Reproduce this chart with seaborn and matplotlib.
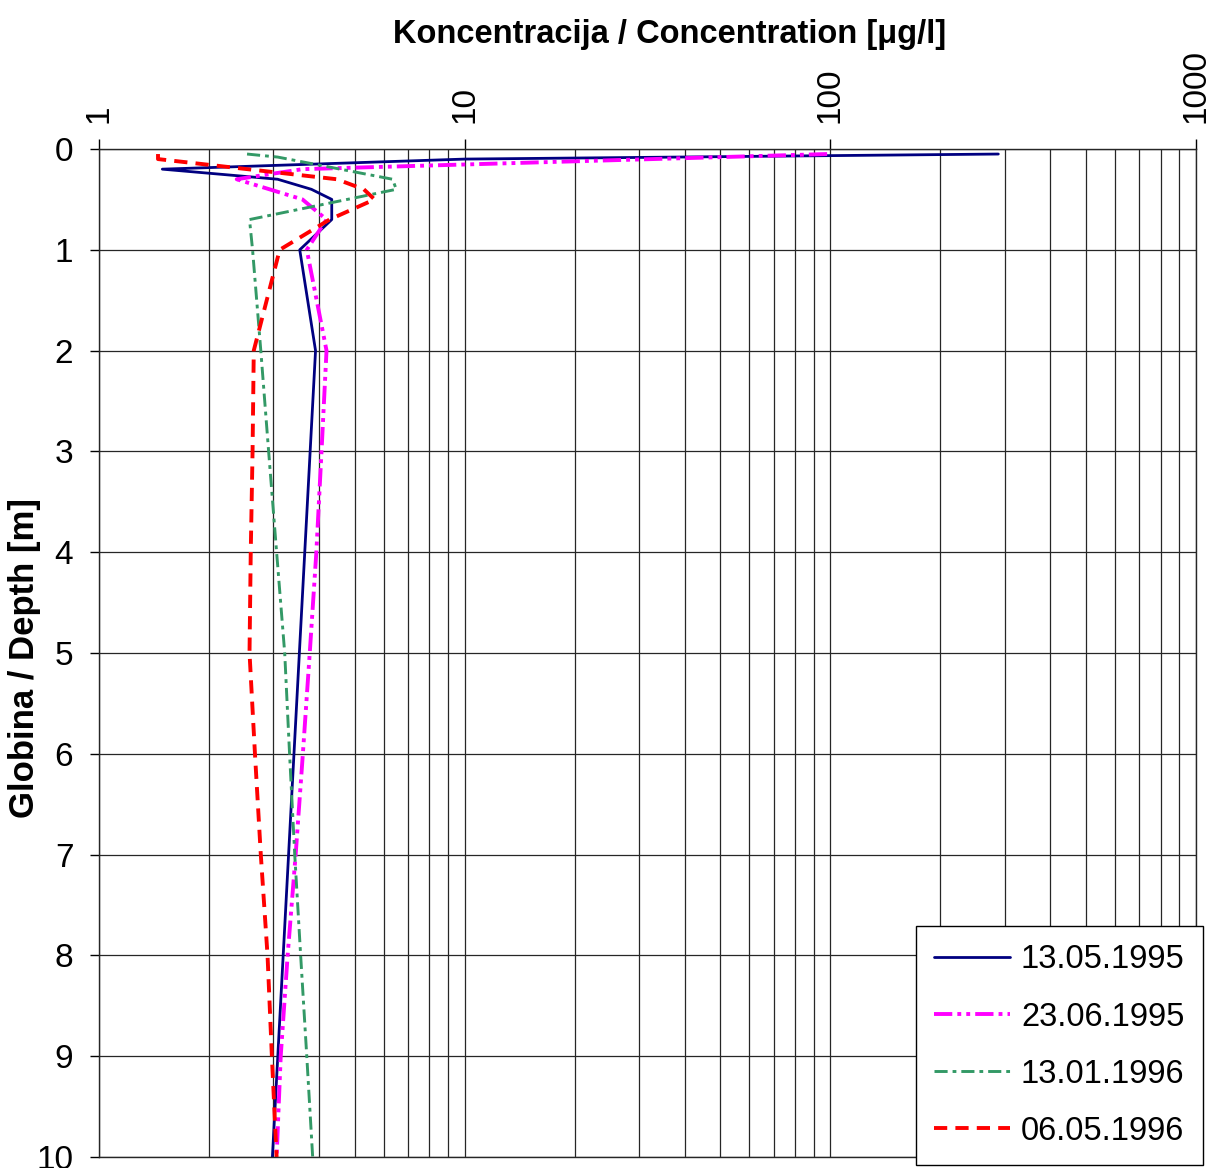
import numpy as np
import pandas as pd
import matplotlib
matplotlib.use("Agg")
import matplotlib.pyplot as plt
from matplotlib.ticker import LogLocator, NullFormatter
import seaborn as sns

dates = ["13.05.1995", "23.06.1995", "13.01.1996", "06.05.1996"]

depth_1 = [0.05, 0.1, 0.2, 0.3, 0.4, 0.5, 0.7, 1.0, 2.0, 10.0]
conc_1 = [288, 10, 1.49, 3.08, 3.81, 4.33, 4.33, 3.54, 3.91, 2.98]

depth_2 = [0.05, 0.2, 0.3, 0.5, 0.7, 1, 2, 3, 4, 5, 6, 7, 8, 9, 10]
conc_2 = [98, 3.6, 2.38, 3.6, 4.19, 3.70, 4.19, 4.06, 3.93, 3.77, 3.61, 3.45, 3.28, 3.14, 3.06]

depth_3 = [0.05, 0.08, 0.3, 0.4, 0.7, 1, 2, 3, 4, 5, 6, 7, 8, 9, 10]
conc_3 = [2.54, 3.08, 6.35, 6.5, 2.58, 2.63, 2.77, 2.91, 3.06, 3.22, 3.32, 3.43, 3.56, 3.70, 3.84]

depth_4 = [0.05, 0.1, 0.3, 0.4, 0.5, 0.7, 1, 2, 3, 4, 5, 6, 7, 8, 9, 10]
conc_4 = [1.45, 1.45, 4.47, 5.3, 5.67, 4.27, 3.12, 2.65, 2.63, 2.60, 2.58, 2.67, 2.77, 2.89, 2.97, 3.06]

colors = ["#000080", "#FF00FF", "#339966", "#FF0000"]
widths = [2.0, 2.8, 2.1, 2.8]
# dash patterns in units of line width
dash_list = [None,
             (4.7, 1.3, 1.0, 1.3, 1.0, 1.3),
             (4.5, 1.7, 1.3, 1.7),
             (3.4, 2.1)]
dash_map = {d: ("" if p is None else p) for d, p in zip(dates, dash_list)}

frames = []
for d, dep, c in zip(dates, [depth_1, depth_2, depth_3, depth_4], [conc_1, conc_2, conc_3, conc_4]):
    frames.append(pd.DataFrame({"date": d, "depth": dep, "conc": c}))
df = pd.concat(frames, ignore_index=True)

sns.set_theme(style="white")
plt.rcParams["font.family"] = ["Liberation Sans", "DejaVu Sans"]
plt.rcParams["text.color"] = "black"

fig = plt.figure(figsize=(12.08, 11.68), dpi=100)
ax = fig.add_axes([99 / 1208, 1 - 1157 / 1168, 1097 / 1208, 1008 / 1168])

sns.lineplot(data=df, x="conc", y="depth", hue="date", style="date",
             palette=colors, dashes=dash_map, orient="y", estimator=None,
             legend=False, ax=ax)

for line, w, p in zip(ax.lines, widths, dash_list):
    line.set_linewidth(w)
    if p is not None:
        line.set_dashes(p)

ax.set_xscale("log")
ax.set_xlim(1, 1000)
ax.set_ylim(10, 0)
ax.xaxis.tick_top()
ax.set_xticks([1, 10, 100, 1000])
ax.set_xticklabels(["1", "10", "100", "1000"])
ax.xaxis.set_minor_locator(LogLocator(base=10, subs=range(2, 10)))
ax.xaxis.set_minor_formatter(NullFormatter())
ax.set_yticks(range(11))
ax.set_xlabel("")
ax.set_ylabel("")

ax.grid(which="both", axis="x", color="#262626", lw=0.9)
ax.grid(which="major", axis="y", color="#262626", lw=0.9)
ax.tick_params(axis="x", which="major", direction="out", length=7, width=1,
               pad=12, labelsize=24, labelrotation=90, color="black",
               labelcolor="black")
ax.tick_params(axis="x", which="minor", length=0)
ax.tick_params(axis="y", direction="out", length=6.5, width=1, pad=12,
               labelsize=24, left=True, color="black", labelcolor="black")
for s in ax.spines.values():
    s.set_color("#262626")
    s.set_linewidth(1)

fig.text(670 / 1208, 1 - 35 / 1168, "Koncentracija / Concentration [μg/l]",
         ha="center", va="center", fontsize=23.5, fontweight="bold",
         color="black")
fig.text(25 / 1208, 1 - 658 / 1168, "Globina / Depth [m]", ha="center",
         va="center", rotation=90, fontsize=25, fontweight="bold",
         color="black")

leg = ax.legend(ax.lines, dates, loc="lower right",
                bbox_to_anchor=(1203 / 1208, 1 - 1165 / 1168),
                bbox_transform=fig.transFigure, fontsize=23.5, frameon=True,
                fancybox=False, framealpha=1, edgecolor="black",
                handlelength=2.3, labelspacing=0.8, borderpad=0.56,
                handletextpad=0.35, borderaxespad=0)
leg.get_frame().set_linewidth(1)
for t in leg.get_texts():
    t.set_color("black")

fig.savefig("out.png", dpi=100)
